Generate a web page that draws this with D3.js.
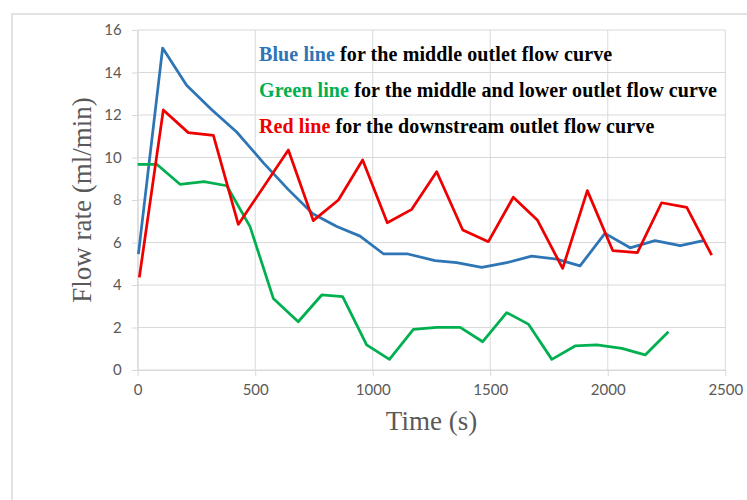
<!DOCTYPE html>
<html>
<head>
<meta charset="utf-8">
<script src="https://cdn.jsdelivr.net/npm/d3@7/dist/d3.min.js"></script>
<style>
  html, body { margin: 0; padding: 0; background: #fff; }
  svg { display: block; }
</style>
</head>
<body>
<svg id="chart" width="747" height="500"></svg>
<script>
// Outlet flow rates over time (s -> ml/min)
const blueTime  = [3, 106, 208, 315, 421, 535, 640, 745, 847, 946, 1045, 1145, 1265, 1357, 1464, 1570, 1676, 1783, 1882, 1988, 2095, 2201, 2308, 2407];
const blueFlow  = [5.45, 15.15, 13.4, 12.25, 11.2, 9.75, 8.5, 7.35, 6.75, 6.3, 5.47, 5.47, 5.15, 5.05, 4.83, 5.05, 5.36, 5.22, 4.9, 6.43, 5.75, 6.09, 5.85, 6.09];

const greenTime = [0, 81, 180, 282, 379, 478, 577, 683, 783, 872, 974, 1071, 1173, 1272, 1372, 1468, 1570, 1662, 1762, 1861, 1953, 2060, 2159, 2258];
const greenFlow = [9.68, 9.68, 8.74, 8.86, 8.67, 6.75, 3.37, 2.27, 3.53, 3.45, 1.18, 0.5, 1.91, 2.01, 2.01, 1.33, 2.7, 2.16, 0.5, 1.13, 1.18, 1.02, 0.71, 1.8];

const redTime   = [7, 109, 215, 322, 428, 641, 747, 854, 957, 1062, 1166, 1272, 1383, 1492, 1598, 1700, 1808, 1913, 2021, 2126, 2229, 2336, 2442];
const redFlow   = [4.36, 12.24, 11.17, 11.04, 6.85, 10.35, 7.03, 8.0, 9.88, 6.93, 7.56, 9.33, 6.59, 6.04, 8.13, 7.06, 4.78, 8.44, 5.62, 5.52, 7.87, 7.65, 5.41];

const xTicks = [0, 500, 1000, 1500, 2000, 2500];
const yTicks = [0, 2, 4, 6, 8, 10, 12, 14, 16];

const xTitle = "Time (s)";
const yTitle = "Flow rate (ml/min)";

const legendItems = [
  { key: "Blue line",  rest: " for the middle outlet flow curve",           color: "#2e75b6" },
  { key: "Green line", rest: " for the middle and lower outlet flow curve", color: "#00b050" },
  { key: "Red line",   rest: " for the downstream outlet flow curve",       color: "#ee0000" }
];

const seriesList = [
  { time: blueTime,  flow: blueFlow,  color: "#2e75b6" },
  { time: greenTime, flow: greenFlow, color: "#00b050" },
  { time: redTime,   flow: redFlow,   color: "#ee0000" }
];

const svg = d3.select("#chart");
const gridColor = "#d9d9d9";
const textGray = "#595959";

// outer chart frame
svg.append("rect")
  .attr("x", 12).attr("y", 14)
  .attr("width", 800).attr("height", 600)
  .attr("fill", "none")
  .attr("stroke", gridColor)
  .attr("stroke-width", 1.5);

const x = d3.scaleLinear().domain([0, 2500]).range([137.7, 725.3]);
const y = d3.scaleLinear().domain([0, 16]).range([370, 30]);

// grid
const grid = svg.append("g").attr("stroke", gridColor).attr("stroke-width", 1);
grid.selectAll("line.h").data(yTicks).join("line")
  .attr("class", "h")
  .attr("x1", x(0)).attr("x2", x(2500))
  .attr("y1", d => y(d)).attr("y2", d => y(d));
grid.selectAll("line.v").data(xTicks).join("line")
  .attr("class", "v")
  .attr("x1", d => x(d)).attr("x2", d => x(d))
  .attr("y1", y(0)).attr("y2", y(16));

// axes
const xAxis = svg.append("g")
  .attr("transform", `translate(0,${y(0)})`)
  .call(d3.axisBottom(x).tickValues(xTicks).tickFormat(d3.format("d")).tickSizeInner(6).tickSizeOuter(0).tickPadding(8));
const yAxis = svg.append("g")
  .attr("transform", `translate(${x(0)},0)`)
  .call(d3.axisLeft(y).tickValues(yTicks).tickFormat(d3.format("d")).tickSizeInner(6).tickSizeOuter(0).tickPadding(10));

[xAxis, yAxis].forEach(g => {
  g.select(".domain").attr("stroke", gridColor).attr("stroke-width", 1);
  g.selectAll(".tick line").attr("stroke", gridColor);
  g.selectAll(".tick text")
    .attr("fill", textGray)
    .style("font-family", "Lato, 'Open Sans', sans-serif")
    .style("font-size", "15px");
});

// series lines
const line = d3.line().x(d => x(d[0])).y(d => y(d[1]));
seriesList.forEach(s => {
  svg.append("path")
    .datum(d3.zip(s.time, s.flow))
    .attr("d", line)
    .attr("fill", "none")
    .attr("stroke", s.color)
    .attr("stroke-width", 2.75)
    .attr("stroke-linejoin", "round");
});

// axis titles
svg.append("text")
  .attr("x", (x(0) + x(2500)) / 2)
  .attr("y", 430)
  .attr("text-anchor", "middle")
  .attr("fill", textGray)
  .style("font-family", "'Liberation Serif', 'Times New Roman', serif")
  .style("font-size", "27px")
  .text(xTitle);

svg.append("text")
  .attr("transform", `translate(91,${(y(0) + y(16)) / 2}) rotate(-90)`)
  .attr("text-anchor", "middle")
  .attr("fill", textGray)
  .style("font-family", "'Liberation Serif', 'Times New Roman', serif")
  .style("font-size", "27px")
  .text(yTitle);

// legend text
const legend = svg.append("g")
  .style("font-family", "'Liberation Serif', 'Times New Roman', serif")
  .style("font-size", "20px")
  .style("font-weight", "bold");
legendItems.forEach((item, i) => {
  const t = legend.append("text")
    .attr("x", 259)
    .attr("y", 61 + i * 35.8)
    .attr("letter-spacing", "0.1px")
    .attr("xml:space", "preserve");
  t.append("tspan").attr("fill", item.color).text(item.key);
  t.append("tspan").attr("fill", "#000").text(item.rest);
});
</script>
</body>
</html>
